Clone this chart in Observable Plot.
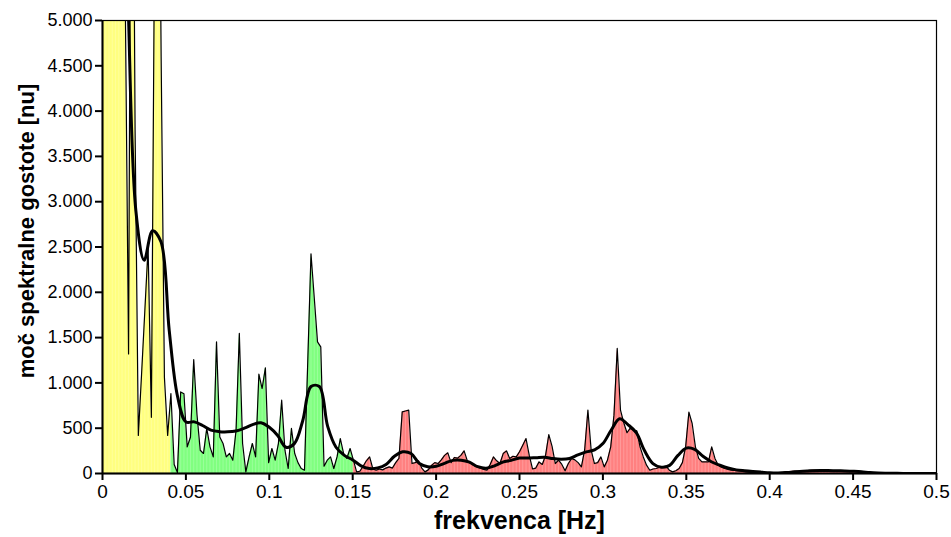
<!DOCTYPE html>
<html><head><meta charset="utf-8">
<script src="https://cdn.jsdelivr.net/npm/d3@7"></script>
<script src="https://cdn.jsdelivr.net/npm/@observablehq/plot@0.6"></script>
<style>body{margin:0;background:#fff} svg{display:block}</style>
</head><body><div id="chart"></div>
<script>
// raw spectral power, one sample every 1/512 Hz from 0 to 0.5 Hz
const power = [
18000,22000,20000,16000,13000,11000,12000,5200,1320,9900,
3800,420,1100,1800,2500,620,6000,9000,4600,1066,
420,883,100,10,900,880,294,400,1258,650,
257,221,497,294,183,1453,404,331,183,221,
147,478,1546,331,18,183,331,183,1096,938,
1166,120,276,147,331,809,257,55,497,221,
120,55,36,1230,2425,1940,1453,1398,80,147,
183,55,183,386,221,166,276,150,18,25,
80,140,183,50,36,50,40,60,73,60,
120,166,680,690,699,110,120,140,60,18,
40,90,120,110,150,200,228,120,177,170,
200,250,140,110,90,73,60,45,36,100,
183,140,110,220,250,166,190,183,240,313,
386,200,50,60,128,100,200,430,300,110,
147,100,30,110,166,150,120,73,260,699,
257,110,120,183,73,147,294,644,1380,699,
560,450,500,478,470,294,183,92,36,50,
55,70,73,81,36,18,30,55,120,294,
677,552,294,166,128,128,128,294,166,92,
70,55,45,36,35,30,25,20,16,12,
10,8,6,5,4,4,3,5,8,12,
18,22,25,24,22,26,30,34,36,35,
33,36,38,35,33,30,32,28,25,26,
28,25,24,22,20,14,8,5,4,3,
3,2,2,2,2,2,1,1,1,1,
1,1,1,1,1,1,1
];
// smoothed curve, one value every 0.005 Hz from 0 to 0.5 Hz
const smooth = [
12000,10000,8000,5400,2900,2355,2680,2560,1580,850,
570,570,530,478,462,460,470,500,540,560,
510,420,290,330,580,960,960,520,290,200,
150,85,55,62,100,190,240,220,110,75,
80,112,145,147,125,75,58,85,125,145,
170,170,175,180,165,158,166,205,238,260,
330,480,605,540,450,250,110,70,90,200,
280,265,190,130,92,60,40,30,22,15,
8,6,10,18,25,30,33,33,30,28,
25,20,10,5,3,2,1,1,1,1,1
];
const xTicks = [0,0.05,0.1,0.15,0.2,0.25,0.3,0.35,0.4,0.45,0.5];
const xTickLabels = ["0","0.05","0.1","0.15","0.2","0.25","0.3","0.35","0.4","0.45","0.5"];
const yTicks = [0,500,1000,1500,2000,2500,3000,3500,4000,4500,5000];
const yTickLabels = ["0","500","1.000","1.500","2.000","2.500","3.000","3.500","4.000","4.500","5.000"];
const bandEdges = [0.04, 0.15];
const bandColors = ["#ffff80", "#80ff80", "#ff8080"];
const xTitle = "frekvenca [Hz]";
const yTitle = "moč spektralne gostote [nu]";

const rows = power.map((p, i) => ({f: i / 512, p}));
const sRows = smooth.map((p, i) => ({f: i * 0.005, p}));
const e1 = rows.findIndex(r => r.f >= bandEdges[0]);
const e2 = rows.findIndex(r => r.f >= bandEdges[1]);
const bandsData = [rows.slice(0, e1 + 1), rows.slice(e1, e2 + 1), rows.slice(e2)];

const chart = Plot.plot({
  width: 951, height: 537,
  marginLeft: 102, marginRight: 15, marginTop: 20, marginBottom: 64,
  x: {domain: [0, 0.5]},
  y: {domain: [0, 5000]},
  style: {fontFamily: "'Liberation Sans', Arial, sans-serif", background: "white", color: "black"},
  marks: [
    ...bandsData.map((d, k) => Plot.areaY(d, {x: "f", y: "p", fill: bandColors[k], clip: true})),
    Plot.ruleX(rows, {x: "f", y1: 0, y2: "p", stroke: "white", strokeOpacity: 0.35, strokeWidth: 0.6, clip: true}),
    Plot.line(rows, {x: "f", y: "p", stroke: "black", strokeWidth: 1.2, clip: true}),
    Plot.line(sRows, {x: "f", y: "p", stroke: "black", strokeWidth: 3, curve: "catmull-rom", clip: true}),
    Plot.frame({stroke: "black", strokeWidth: 1.2}),
    Plot.ruleY([0], {stroke: "black", strokeWidth: 2}),
    Plot.ruleX([0], {stroke: "black", strokeWidth: 2}),
    Plot.axisY({ticks: yTicks, tickFormat: d => yTickLabels[yTicks.indexOf(d)], tickSize: 7, tickPadding: 3, strokeWidth: 2, fontSize: 18, label: null}),
    Plot.axisX({ticks: xTicks, tickFormat: d => xTickLabels[xTicks.indexOf(d)], tickSize: 7, tickPadding: 4, strokeWidth: 2, fontSize: 19, label: null}),
    Plot.text([xTitle], {frameAnchor: "bottom", textAnchor: "middle", lineAnchor: "middle", dy: 47, fontSize: 25, fontWeight: "bold"}),
    Plot.text([yTitle], {frameAnchor: "left", textAnchor: "middle", lineAnchor: "middle", dx: -76, dy: -16, rotate: -90, fontSize: 22, fontWeight: "bold"})
  ]
});
document.getElementById("chart").append(chart);
</script>
</body></html>
